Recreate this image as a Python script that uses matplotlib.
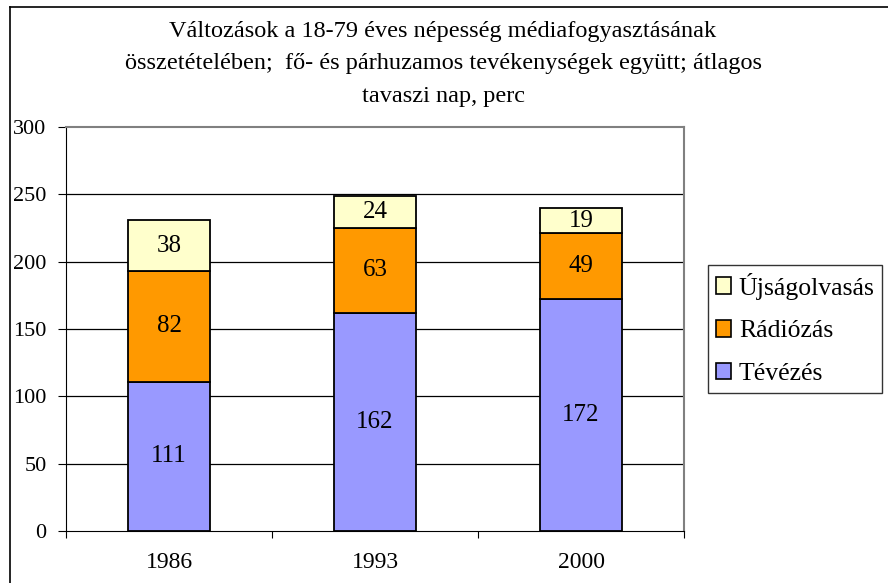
import matplotlib.pyplot as plt
import numpy as np
from matplotlib.patches import Patch
from matplotlib.lines import Line2D

years = ['1986', '1993', '2000']
tevezes = [111, 162, 172]
radiozas = [82, 63, 49]
ujsag = [38, 24, 19]

series = [
    ('Tévézés', tevezes, '#9999FF'),
    ('Rádiózás', radiozas, '#FF9900'),
    ('Újságolvasás', ujsag, '#FFFFCC'),
]

plt.rcParams['font.family'] = ['Liberation Serif', 'DejaVu Serif']

fig = plt.figure(figsize=(8.88, 5.83), dpi=100)
W, H = 888, 583
ax = fig.add_axes([66 / W, (H - 531) / H, 618 / W, 404 / H])

x = np.arange(len(years))
bottom = np.zeros(len(years))
for name, vals, col in series:
    vals = np.array(vals)
    ax.bar(x, vals, 0.4, bottom=bottom, color=col, edgecolor='black',
           linewidth=1.3, zorder=3, label=name)
    for xi, b, v in zip(x, bottom, vals):
        ax.text(xi, b + v / 2, str(v), ha='center', va='center',
                fontsize=18, zorder=4)
    bottom = bottom + vals

ax.set_xlim(-0.5, 2.5)
ax.set_ylim(0, 300)
ax.set_yticks(range(0, 301, 50))
ax.set_xticks([-0.5, 0.5, 1.5, 2.5], minor=False)
ax.set_xticklabels([])
ax.set_xticks(x, minor=True)
ax.set_xticklabels(years, minor=True)
ax.tick_params(axis='x', which='minor', length=0, pad=15, labelsize=17)
ax.tick_params(axis='x', which='major', length=5, direction='out')
ax.tick_params(axis='y', length=6, direction='out', labelsize=16, pad=8)
for yv in range(50, 300, 50):
    ax.axhline(yv, color='black', linewidth=0.9, zorder=1)

ax.spines['left'].set_color('black')
ax.spines['bottom'].set_color('black')
ax.spines['top'].set_color('#808080')
ax.spines['right'].set_color('#808080')
ax.spines['top'].set_linewidth(1.5)
ax.spines['right'].set_linewidth(1.5)

title = ('Változások a 18-79 éves népesség médiafogyasztásának\n'
         'összetételében;  fő- és párhuzamos tevékenységek együtt; átlagos\n'
         'tavaszi nap, perc')
fig.text(443 / W, 1 - 64 / H, title, ha='center', va='center', fontsize=17.5,
         linespacing=1.7)

handles = [Patch(facecolor=c, edgecolor='black', linewidth=1.2, label=n)
           for n, _, c in series[::-1]]
leg = fig.legend(handles=handles, loc='upper left',
                 bbox_to_anchor=(708 / W, 1 - 265 / H), fontsize=18.5,
                 frameon=True, fancybox=False, edgecolor='black',
                 handlelength=0.6, handleheight=0.6, handletextpad=0.3,
                 labelspacing=0.8, borderpad=0.3, borderaxespad=0)
leg.get_frame().set_linewidth(1.0)

# outer chart frame (left and top edges visible)
fig.add_artist(Line2D([10 / W, 10 / W], [0, 1 - 7 / H], color='black',
                      linewidth=1.2, transform=fig.transFigure))
fig.add_artist(Line2D([10 / W, 1], [1 - 7 / H, 1 - 7 / H], color='black',
                      linewidth=1.2, transform=fig.transFigure))

fig.savefig('out.png', dpi=100)
